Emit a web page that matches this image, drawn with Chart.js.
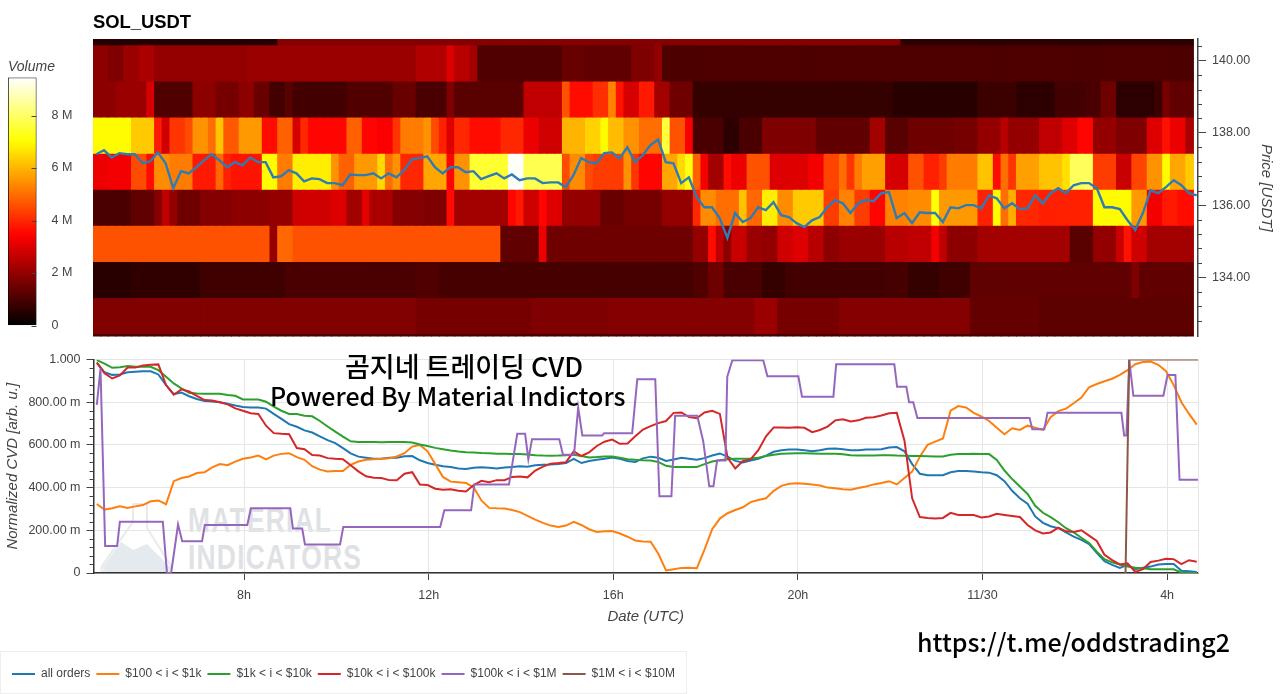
<!DOCTYPE html>
<html>
<head>
<meta charset="utf-8">
<script src="https://cdn.jsdelivr.net/npm/chart.js@4.4.1/dist/chart.umd.min.js"></script>
<style>
html, body { margin: 0; padding: 0; background: #fff; width: 1280px; height: 694px; overflow: hidden; }
canvas, .note, .mark, #legendBox, #logo { position: absolute; }
canvas { z-index: 1; }
.note { z-index: 2; color: #000; font-family: "Noto Sans CJK KR", sans-serif; font-weight: 500; white-space: nowrap; line-height: 30px; }
.mark { z-index: 0; color: #dfe2e5; font: bold 35px/30px "Liberation Sans", sans-serif; letter-spacing: 1.6px; transform: scaleX(0.755); transform-origin: left center; }
#legendBox { left: 0; top: 651px; width: 687px; height: 43px; border: 1px solid #eee; box-sizing: border-box; z-index: 0; }
#logo { left: 97px; top: 498px; z-index: 0; }
</style>
</head>
<body>
<svg id="logo" width="80" height="76" viewBox="0 0 80 76">
  <path d="M36 6 L50 6 L50 30 L74 68 Q75 74 68 74 L10 74 Q2 74 5 68 L36 24 Z" fill="none" stroke="#e8ebed" stroke-width="2"/>
  <path d="M5 70 L24 44 L36 52 L50 46 L74 70 Q70 74 66 74 L10 74 Z" fill="#e4eaee"/>
</svg>
<div class="mark" style="left:188px;top:505px">MATERIAL</div>
<div class="mark" style="left:188px;top:542px">INDICATORS</div>
<div id="legendBox"></div>
<canvas id="barChart" width="93" height="293" style="left:0;top:55px"></canvas>
<canvas id="heatChart" width="1187" height="350" style="left:93px;top:0"></canvas>
<canvas id="cvdChart" width="1280" height="349" style="left:0;top:345px"></canvas>
<div class="note" style="left:345px;top:351px;font-size:27px">곰지네 트레이딩 CVD</div>
<div class="note" style="left:270px;top:380px;font-size:25px">Powered By Material Indictors</div>
<div class="note" style="left:917px;top:626px;font-size:25px">https://t.me/oddstrading2</div>
<script>
// price axis
const priceTicks = [134, 136, 138, 140];
const priceMinor = [132.8, 133.2, 133.6, 134.4, 134.8, 135.2, 135.6, 136.4, 136.8, 137.2, 137.6, 138.4, 138.8, 139.2, 139.6, 140.4];
const heatRowBands = [[140.44, 140.6], [139.44, 140.44], [138.44, 139.44], [137.44, 138.44], [136.44, 137.44], [135.44, 136.44], [134.44, 135.44], [133.44, 134.44], [132.44, 133.44], [132.36, 132.44]];

// volume per price row in M, as last-column / volume runs over the 143 ten minute columns
const topEnds = [24, 105, 143];
const topVols = [0.5, 1.8, 0.6];
const row140Ends = [2, 4, 6, 8, 20, 42, 46, 47, 49, 50, 61, 64, 70, 73, 74, 143];
const row140Vols = [1.9, 1.7, 2.1, 2.3, 2.0, 2.1, 2.4, 3.0, 2.5, 2.2, 1.1, 1.4, 1.3, 1.7, 2.0, 1.05];
const row139Ends = [3, 7, 8, 13, 16, 19, 21, 23, 25, 26, 33, 39, 42, 46, 47, 56, 61, 62, 65, 67, 68, 69, 71, 73, 75, 78, 104, 115, 120, 125, 129, 131, 133, 138, 139, 140, 143];
const row139Vols = [1.9, 2.1, 2.9, 1.1, 1.9, 1.6, 1.9, 1.4, 0.9, 1.2, 0.9, 1.1, 1.4, 1.0, 1.7, 1.2, 2.6, 4.6, 3.6, 4.1, 5.3, 3.7, 2.9, 3.8, 2.2, 1.5, 0.7, 0.55, 0.8, 0.6, 0.9, 1.0, 1.5, 0.6, 0.8, 1.6, 1.3];
const row138Ends = [5, 8, 9, 10, 12, 13, 15, 16, 17, 19, 22, 24, 26, 27, 28, 33, 35, 37, 39, 40, 43, 44, 45, 46, 47, 49, 53, 56, 58, 61, 64, 66, 67, 69, 71, 74, 75, 77, 78, 82, 84, 87, 94, 101, 103, 106, 112, 115, 118, 119, 123, 126, 128, 130, 133, 137, 139, 140, 142, 143];
const row138Vols = [7.0, 6.3, 3.8, 2.8, 4.2, 4.5, 5.5, 5.0, 6.2, 4.7, 5.6, 3.6, 4.8, 2.9, 4.0, 3.5, 4.8, 3.5, 3.4, 4.2, 5.2, 5.5, 4.5, 3.9, 3.0, 4.0, 3.6, 4.0, 3.2, 2.8, 6.0, 6.4, 7.0, 6.1, 5.5, 5.0, 7.6, 4.6, 3.4, 1.0, 0.6, 1.0, 1.7, 1.3, 2.2, 1.2, 1.5, 1.6, 2.0, 2.5, 2.0, 2.6, 3.0, 3.5, 2.0, 1.7, 3.0, 3.7, 3.2, 2.3];
const row137Ends = [2, 5, 7, 8, 10, 13, 16, 17, 18, 22, 24, 26, 31, 32, 34, 37, 38, 39, 40, 43, 46, 47, 49, 54, 56, 61, 62, 64, 65, 69, 70, 71, 74, 76, 77, 78, 79, 80, 82, 83, 85, 88, 93, 95, 97, 98, 99, 100, 103, 106, 108, 110, 111, 115, 117, 118, 119, 120, 123, 126, 127, 130, 133, 135, 137, 139, 140, 142, 143];
const row137Vols = [3.2, 3.3, 4.5, 3.6, 5.4, 5.2, 3.8, 4.9, 3.9, 3.7, 7.0, 5.2, 6.8, 5.5, 4.8, 5.6, 6.5, 5.0, 5.5, 4.0, 5.8, 3.5, 5.5, 7.5, 9.4, 7.8, 4.5, 5.4, 4.5, 4.3, 5.5, 4.2, 3.5, 5.8, 6.5, 7.2, 4.8, 3.3, 2.2, 3.6, 3.2, 4.6, 3.0, 3.3, 4.4, 5.0, 4.2, 5.2, 5.7, 2.9, 4.6, 3.9, 4.3, 5.2, 6.2, 3.6, 5.0, 4.2, 5.7, 6.2, 6.6, 7.9, 4.3, 2.7, 4.4, 5.5, 7.0, 5.8, 6.3];
const row136Ends = [5, 8, 9, 10, 11, 14, 18, 23, 26, 31, 33, 35, 36, 39, 43, 46, 47, 54, 55, 56, 58, 59, 61, 66, 69, 74, 78, 79, 81, 84, 85, 87, 89, 91, 95, 97, 99, 101, 103, 106, 109, 110, 115, 117, 118, 119, 120, 123, 130, 135, 137, 139, 141, 143];
const row136Vols = [1.0, 1.3, 1.8, 2.6, 2.0, 1.5, 1.8, 1.9, 2.0, 2.8, 3.0, 2.2, 3.1, 2.3, 1.8, 1.7, 3.6, 2.2, 3.5, 3.8, 2.8, 3.5, 3.0, 2.0, 1.4, 1.6, 2.0, 4.0, 5.4, 5.0, 6.2, 4.9, 6.8, 5.4, 6.3, 4.3, 5.3, 4.3, 3.5, 5.3, 5.4, 7.1, 5.6, 3.9, 7.0, 5.0, 5.9, 4.0, 3.9, 7.0, 5.6, 3.3, 3.8, 3.6];
const row135Ends = [23, 24, 26, 53, 58, 59, 78, 80, 81, 82, 83, 85, 87, 89, 91, 93, 95, 97, 103, 106, 109, 110, 111, 115, 127, 130, 133, 134, 135, 137, 143];
const row135Vols = [4.6, 2.0, 4.9, 4.6, 1.3, 3.2, 1.5, 2.0, 3.6, 2.6, 1.9, 2.7, 2.1, 2.0, 2.8, 3.0, 2.5, 1.9, 2.1, 2.5, 2.6, 3.3, 2.6, 1.9, 2.2, 1.2, 2.0, 2.7, 3.7, 2.8, 2.2];
const row134Ends = [5, 14, 25, 42, 45, 78, 80, 82, 87, 90, 103, 106, 110, 114, 135, 136, 143];
const row134Vols = [0.55, 0.65, 0.85, 1.0, 1.1, 0.95, 1.1, 1.5, 1.0, 0.7, 0.9, 0.95, 0.7, 0.85, 1.3, 1.7, 1.3];
const row133Ends = [42, 57, 67, 86, 89, 97, 114, 123, 143];
const row133Vols = [1.75, 1.6, 1.7, 1.8, 2.1, 1.6, 1.8, 1.35, 1.25];
const bottomEnds = [143];
const bottomVols = [1.0];

const priceValues = [
  137.41, 137.52, 137.32, 137.44, 137.41, 137.41, 137.16, 137.21, 137.46, 137.16, 136.47, 136.94, 136.88,
  137.05, 137.24, 137.41, 137.24, 137.05, 137.19, 137.10, 137.32, 137.19, 137.19, 136.77, 136.80, 136.97,
  136.88, 136.66, 136.74, 136.72, 136.61, 136.61, 136.55, 136.85, 136.83, 136.83, 136.88, 136.74, 136.88,
  136.77, 136.97, 137.27, 137.30, 137.35, 137.05, 136.88, 137.05, 137.05, 136.91, 136.94, 136.72, 136.80,
  136.88, 136.74, 136.85, 136.69, 136.74, 136.74, 136.61, 136.63, 136.63, 136.50, 136.83, 137.30, 137.19,
  137.16, 137.44, 137.46, 137.30, 137.60, 137.19, 137.38, 137.66, 137.82, 137.19, 137.16, 136.61, 136.77,
  136.22, 135.94, 135.94, 135.64, 135.09, 135.78, 135.53, 135.64, 135.94, 135.86, 136.08, 135.72, 135.67,
  135.50, 135.39, 135.58, 135.67, 135.94, 136.14, 136.05, 135.78, 136.05, 136.14, 136.11, 136.33, 136.36,
  135.64, 135.78, 135.50, 135.80, 135.78, 135.78, 135.53, 135.94, 135.91, 136.00, 136.00, 135.91, 136.27,
  136.19, 135.91, 136.05, 135.89, 135.91, 136.27, 136.05, 136.33, 136.47, 136.33, 136.55, 136.61, 136.61,
  136.47, 135.94, 135.94, 135.89, 135.58, 135.31, 135.78, 136.41, 136.33, 136.50, 136.69, 136.55, 136.33, 136.27
];

// normalized CVD in milli units
const allOrders = [
  985, 940, 928, 930, 940, 943, 945, 945, 930, 880, 838, 845, 828,
  815, 805, 803, 800, 793, 785, 778, 775, 775, 770, 745, 722, 697,
  685, 668, 658, 640, 622, 608, 585, 560, 545, 540, 535, 535, 540,
  540, 547, 548, 528, 515, 507, 500, 496, 490, 487, 493, 495, 493,
  490, 494, 497, 500, 498, 505, 507, 508, 510, 515, 535, 515, 525,
  530, 535, 541, 535, 525, 520, 537, 545, 540, 525, 532, 540, 535,
  530, 538, 550, 560, 545, 525, 518, 527, 535, 550, 568, 575, 578,
  578, 575, 570, 575, 582, 583, 580, 575, 575, 578, 578, 580, 588,
  590, 570, 510, 465, 458, 458, 458, 472, 478, 478, 475, 472, 470,
  458, 430, 385, 350, 325, 265, 235, 219, 210, 190, 170, 155, 135,
  95, 55, 38, 24, 38, 18, 25, 30, 40, 42, 42, 10, 8, 5
];
const orders100to1k = [
  323, 297, 303, 312, 305, 312, 318, 336, 340, 322, 430, 445, 452,
  468, 472, 495, 510, 505, 522, 535, 541, 550, 532, 550, 558, 561,
  543, 530, 500, 484, 476, 478, 478, 507, 522, 530, 533, 535, 538,
  546, 561, 592, 600, 570, 510, 450, 428, 425, 422, 400, 340, 305,
  303, 302, 295, 285, 268, 250, 235, 222, 216, 222, 240, 225, 205,
  192, 195, 197, 185, 170, 152, 148, 146, 90, 12, 18, 24, 25,
  22, 110, 205, 255, 280, 295, 308, 332, 342, 350, 385, 408, 418,
  420, 418, 415, 410, 400, 397, 392, 390, 398, 405, 415, 422, 430,
  415, 445, 475, 545, 600, 615, 630, 760, 782, 775, 750, 733, 712,
  680, 650, 678, 670, 690, 680, 670, 730, 758, 770, 795, 822, 870,
  885, 898, 910, 928, 950, 978, 988, 990, 975, 945, 880, 800, 745, 695
];
const orders1kto10k = [
  997, 981, 961, 964, 969, 966, 966, 966, 950, 919, 888, 865, 844,
  841, 840, 840, 840, 834, 830, 813, 813, 813, 802, 779, 760, 745,
  745, 737, 734, 712, 686, 662, 639, 617, 614, 613, 613, 612, 613,
  614, 614, 611, 602, 595, 586, 580, 574, 569, 566, 564, 562, 561,
  559, 558, 557, 557, 555, 552, 550, 549, 550, 552, 554, 548, 541,
  543, 546, 546, 540, 533, 530, 528, 527, 520, 502, 497, 496, 497,
  496, 510, 522, 528, 533, 535, 535, 536, 540, 548, 554, 558, 560,
  561, 561, 560, 559, 558, 558, 556, 552, 550, 550, 550, 551, 552,
  550, 549, 548, 548, 547, 546, 546, 554, 557, 557, 558, 557, 557,
  530, 480, 440, 405, 370, 315, 282, 262, 238, 210, 190, 165, 140,
  100, 65, 50, 40, 30, 25, 22, 18, 17, 17, 17, 2, 0, 0
];
const orders10kto100k = [
  985, 935, 911, 925, 962, 962, 972, 975, 977, 880, 835, 860, 850,
  830, 810, 808, 800, 790, 771, 760, 748, 745, 690, 655, 652, 650,
  585, 580, 553, 550, 538, 535, 533, 505, 476, 453, 446, 445, 435,
  434, 465, 472, 414, 412, 395, 390, 392, 385, 382, 412, 432, 425,
  435, 435, 450, 452, 448, 480, 498, 512, 515, 519, 570, 548, 565,
  595, 615, 625, 605, 607, 640, 672, 688, 702, 712, 750, 752, 730,
  725, 752, 760, 745, 540, 490, 525, 532, 575, 640, 682, 682, 680,
  683, 680, 660, 670, 686, 715, 720, 710, 715, 727, 730, 738, 748,
  750, 620, 350, 262, 258, 255, 258, 282, 272, 272, 272, 260, 265,
  277, 272, 267, 262, 225, 200, 185, 190, 212, 195, 192, 200, 175,
  150, 85, 60, 40, 45, 5, 18, 52, 58, 67, 65, 42, 60, 53
];
const hours100kto1M = [4.81, 4.89, 4.99, 5.25, 5.31, 6.24, 6.33, 6.42, 6.57, 6.66, 7.09, 7.15, 8.07, 8.15, 9.0, 9.06, 9.26, 9.32, 10.08, 10.15, 12.25, 12.34, 12.92, 12.99, 13.74, 13.92, 14.09, 14.16, 14.24, 14.83, 14.91, 15.15, 15.24, 15.33, 15.76, 15.80, 16.41, 16.52, 16.91, 17.0, 17.26, 17.34, 17.82, 17.95, 18.08, 18.17, 18.25, 18.43, 18.47, 18.58, 19.25, 19.34, 20.01, 20.09, 20.77, 20.83, 22.09, 22.15, 22.35, 22.41, 22.50, 22.59, 25.02, 25.08, 25.34, 25.41, 27.01, 27.07, 27.12, 27.18, 27.27, 27.92, 28.01, 28.18, 28.27, 28.68];
const orders100kto1M = [787, 958, 126, 126, 240, 240, 0, 0, 227, 149, 149, 225, 225, 303, 303, 208, 208, 134, 134, 216, 216, 294, 294, 414, 414, 652, 652, 533, 627, 627, 554, 554, 775, 644, 644, 655, 655, 907, 907, 359, 359, 737, 737, 616, 406, 406, 527, 527, 919, 997, 997, 921, 921, 826, 826, 978, 978, 872, 872, 800, 800, 726, 726, 673, 673, 751, 751, 644, 644, 997, 830, 830, 927, 927, 437, 437];
const hours1Mto10M = [27.10, 27.18, 28.68];
const orders1Mto10M = [0, 1000, 1000];

const cvdTicks = [0, 200, 400, 600, 800, 1000];
const cvdTickLabels = ['0', '200.00 m', '400.00 m', '600.00 m', '800.00 m', '1.000'];
const cvdMinor = [40, 80, 120, 160, 240, 280, 320, 360, 440, 480, 520, 560, 640, 680, 720, 760, 840, 880, 920, 960];
const timeTicks = [8, 12, 16, 20, 24, 28];
const timeLabels = ['8h', '12h', '16h', '20h', '11/30', '4h'];
const volumeTicks = [0, 2, 4, 6, 8];
const volumeLabels = ['0', '2 M', '4 M', '6 M', '8 M'];
const volumeMax = 9.45;

const startHour = 4.738, endHour = 28.67;
const columnHours = Array.from({ length: 143 }, (_, i) => startHour + (i + 0.5) / 6);
const lineHours = priceValues.map((_, i) => 4.81 + i / 6);

const textColor = '#444';
const labelFont = { family: '"Liberation Sans", Arial, sans-serif', size: 12.5 };
const titleFont = { family: '"Liberation Sans", Arial, sans-serif', size: 15, style: 'italic', weight: 'normal' };

// matplotlib style "hot" map
const hot = (v) => {
  const t = v / volumeMax;
  const c = (x) => Math.round(255 * Math.max(0, Math.min(1, x)));
  return `rgb(${c(t / 0.365)},${c((t - 0.365) / 0.38)},${c((t - 0.745) / 0.255)})`;
};

const expandRuns = (ends, vols) => {
  const out = [];
  ends.forEach((end, k) => { while (out.length < end) out.push(vols[k]); });
  return out;
};

// small tick marks the scale can't draw by itself
const sideTicks = {
  id: 'sideTicks',
  afterDraw(chart, args, opts) {
    const scale = chart.scales.y, ctx = chart.ctx;
    const x0 = scale.position === 'right' ? scale.left : scale.right;
    ctx.save();
    ctx.strokeStyle = opts.color || textColor;
    ctx.lineWidth = 1;
    opts.values.forEach((v) => {
      const y = Math.round(scale.getPixelForValue(v)) + 0.5;
      ctx.beginPath();
      ctx.moveTo(x0, y);
      ctx.lineTo(x0 + opts.dir * opts.len, y);
      ctx.stroke();
    });
    if (opts.edge) {
      ctx.strokeStyle = '#e6e6e6';
      ctx.beginPath();
      ctx.moveTo(chart.chartArea.right + 0.5, chart.chartArea.top);
      ctx.lineTo(chart.chartArea.right + 0.5, chart.chartArea.bottom);
      ctx.stroke();
    }
    ctx.restore();
  }
};

// --- volume colour bar ---
new Chart(document.getElementById('barChart'), {
  type: 'bar',
  plugins: [sideTicks],
  data: {
    labels: ['Volume'],
    datasets: [{
      data: [[0, volumeMax]],
      barPercentage: 1,
      categoryPercentage: 1,
      borderColor: '#000',
      borderWidth: 1,
      borderSkipped: false,
      backgroundColor: (c) => {
        const area = c.chart.chartArea;
        if (!area) return '#000';
        const g = c.chart.ctx.createLinearGradient(0, area.bottom, 0, area.top);
        for (let i = 0; i <= 40; i++) g.addColorStop(i / 40, hot(volumeMax * i / 40));
        return g;
      }
    }]
  },
  options: {
    responsive: false,
    animation: false,
    layout: { padding: { left: 8, bottom: 1 } },
    plugins: {
      legend: { display: false },
      tooltip: { enabled: false },
      title: { display: true, text: 'Volume', align: 'start', color: textColor, font: { ...titleFont, size: 14 }, padding: { top: 1, bottom: 2 } },
      sideTicks: { values: volumeTicks, dir: -1, len: 5 }
    },
    scales: {
      x: { display: false },
      y: {
        position: 'right',
        min: 0,
        max: volumeMax,
        afterFit: (s) => { s.width = 56.5; },
        afterBuildTicks: (s) => { s.ticks = volumeTicks.map((value) => ({ value })); },
        grid: { drawOnChartArea: false, drawTicks: false },
        border: { display: false },
        ticks: { color: textColor, font: labelFont, padding: 15, callback: (v, i) => volumeLabels[i] }
      }
    }
  }
});

// --- heatmap + price ---
const heatRuns = [
  [topEnds, topVols], [row140Ends, row140Vols], [row139Ends, row139Vols], [row138Ends, row138Vols], [row137Ends, row137Vols],
  [row136Ends, row136Vols], [row135Ends, row135Vols], [row134Ends, row134Vols], [row133Ends, row133Vols], [bottomEnds, bottomVols]
];
const heatDatasets = heatRuns.map(([ends, vols], r) => {
  const volumes = expandRuns(ends, vols);
  return {
    type: 'bar',
    order: 2,
    grouped: false,
    barPercentage: 1,
    categoryPercentage: 1,
    inflateAmount: 0.5,
    borderWidth: 0,
    backgroundColor: volumes.map(hot),
    data: columnHours.map((h, i) => ({ x: h, y: heatRowBands[r] }))
  };
});

new Chart(document.getElementById('heatChart'), {
  data: {
    datasets: [...heatDatasets, {
      type: 'line',
      order: 1,
      data: lineHours.map((h, i) => ({ x: h, y: priceValues[i] })),
      borderColor: '#2f7cb4',
      borderWidth: 2.4,
      pointRadius: 0,
      tension: 0
    }]
  },
  plugins: [sideTicks],
  options: {
    responsive: false,
    animation: false,
    layout: { padding: { bottom: 4 } },
    plugins: {
      legend: { display: false },
      tooltip: { enabled: false },
      title: {
        display: true, text: 'SOL_USDT', align: 'start', color: '#000',
        font: { family: '"Liberation Sans", Arial, sans-serif', size: 18.4, weight: 'bold' },
        padding: { top: 12, bottom: 5 }
      },
      sideTicks: { values: priceMinor, dir: 1, len: 4 }
    },
    scales: {
      x: { type: 'linear', display: false, offset: false, min: startHour, max: endHour },
      y: {
        position: 'right',
        min: 132.36,
        max: 140.6,
        afterFit: (s) => { s.width = 82; },
        afterBuildTicks: (s) => { s.ticks = priceTicks.map((value) => ({ value })); },
        grid: { drawOnChartArea: false, color: textColor, tickLength: 8 },
        border: { color: textColor, width: 1.5 },
        ticks: { color: textColor, font: labelFont, padding: 6, callback: (v) => v.toFixed(2) },
        title: { display: true, text: 'Price [USDT]', color: textColor, font: titleFont, padding: { top: 5, bottom: 0 } }
      }
    }
  }
});

// --- normalized CVD ---
const lineSet = (label, color, hours, values, order) => ({
  label,
  order,
  data: hours.map((h, i) => ({ x: h, y: values[i] })),
  borderColor: color,
  backgroundColor: color,
  borderWidth: 2,
  pointRadius: 0,
  tension: 0
});

new Chart(document.getElementById('cvdChart'), {
  type: 'line',
  plugins: [sideTicks],
  data: {
    datasets: [
      lineSet('all orders', '#1f77b4', lineHours, allOrders, 6),
      lineSet('$100 < i < $1k', '#ff7f0e', lineHours, orders100to1k, 5),
      lineSet('$1k < i < $10k', '#2ca02c', lineHours, orders1kto10k, 4),
      lineSet('$10k < i < $100k', '#d62728', lineHours, orders10kto100k, 3),
      lineSet('$100k < i < $1M', '#9467bd', hours100kto1M, orders100kto1M, 2),
      lineSet('$1M < i < $10M', '#8c564b', hours1Mto10M, orders1Mto10M, 1)
    ]
  },
  options: {
    responsive: false,
    animation: false,
    layout: { padding: { left: 6, right: 82, top: 14.5, bottom: 4 } },
    plugins: {
      tooltip: { enabled: false },
      legend: {
        position: 'bottom',
        align: 'start',
        reverse: true,
        labels: {
          color: textColor,
          font: { family: labelFont.family, size: 12 },
          usePointStyle: true,
          pointStyle: 'line',
          pointStyleWidth: 23,
          boxHeight: 12,
          padding: 6
        }
      },
      sideTicks: { values: cvdMinor, dir: -1, len: 4, edge: true }
    },
    scales: {
      x: {
        type: 'linear',
        min: startHour,
        max: endHour,
        afterFit: (s) => { s.height = 89; },
        afterBuildTicks: (s) => { s.ticks = timeTicks.map((value) => ({ value })); },
        grid: { color: '#e6e6e6', tickColor: textColor, tickLength: 7 },
        border: { color: '#333', width: 1.5 },
        ticks: { color: textColor, font: labelFont, padding: 8, maxRotation: 0, callback: (v, i) => timeLabels[i] },
        title: { display: true, text: 'Date (UTC)', color: textColor, font: titleFont, padding: { top: 0, bottom: 36 } }
      },
      y: {
        min: 0,
        max: 1000,
        afterFit: (s) => { s.width = 87.5; },
        afterBuildTicks: (s) => { s.ticks = cvdTicks.map((value) => ({ value })); },
        grid: { color: '#e6e6e6', tickColor: textColor, tickLength: 7 },
        border: { color: '#333', width: 1.5 },
        ticks: { color: textColor, font: labelFont, padding: 6, callback: (v, i) => cvdTickLabels[i] },
        title: { display: true, text: 'Normalized CVD [arb. u.]', color: textColor, font: titleFont, padding: { top: -2, bottom: 0 } }
      }
    }
  }
});
</script>
</body>
</html>
